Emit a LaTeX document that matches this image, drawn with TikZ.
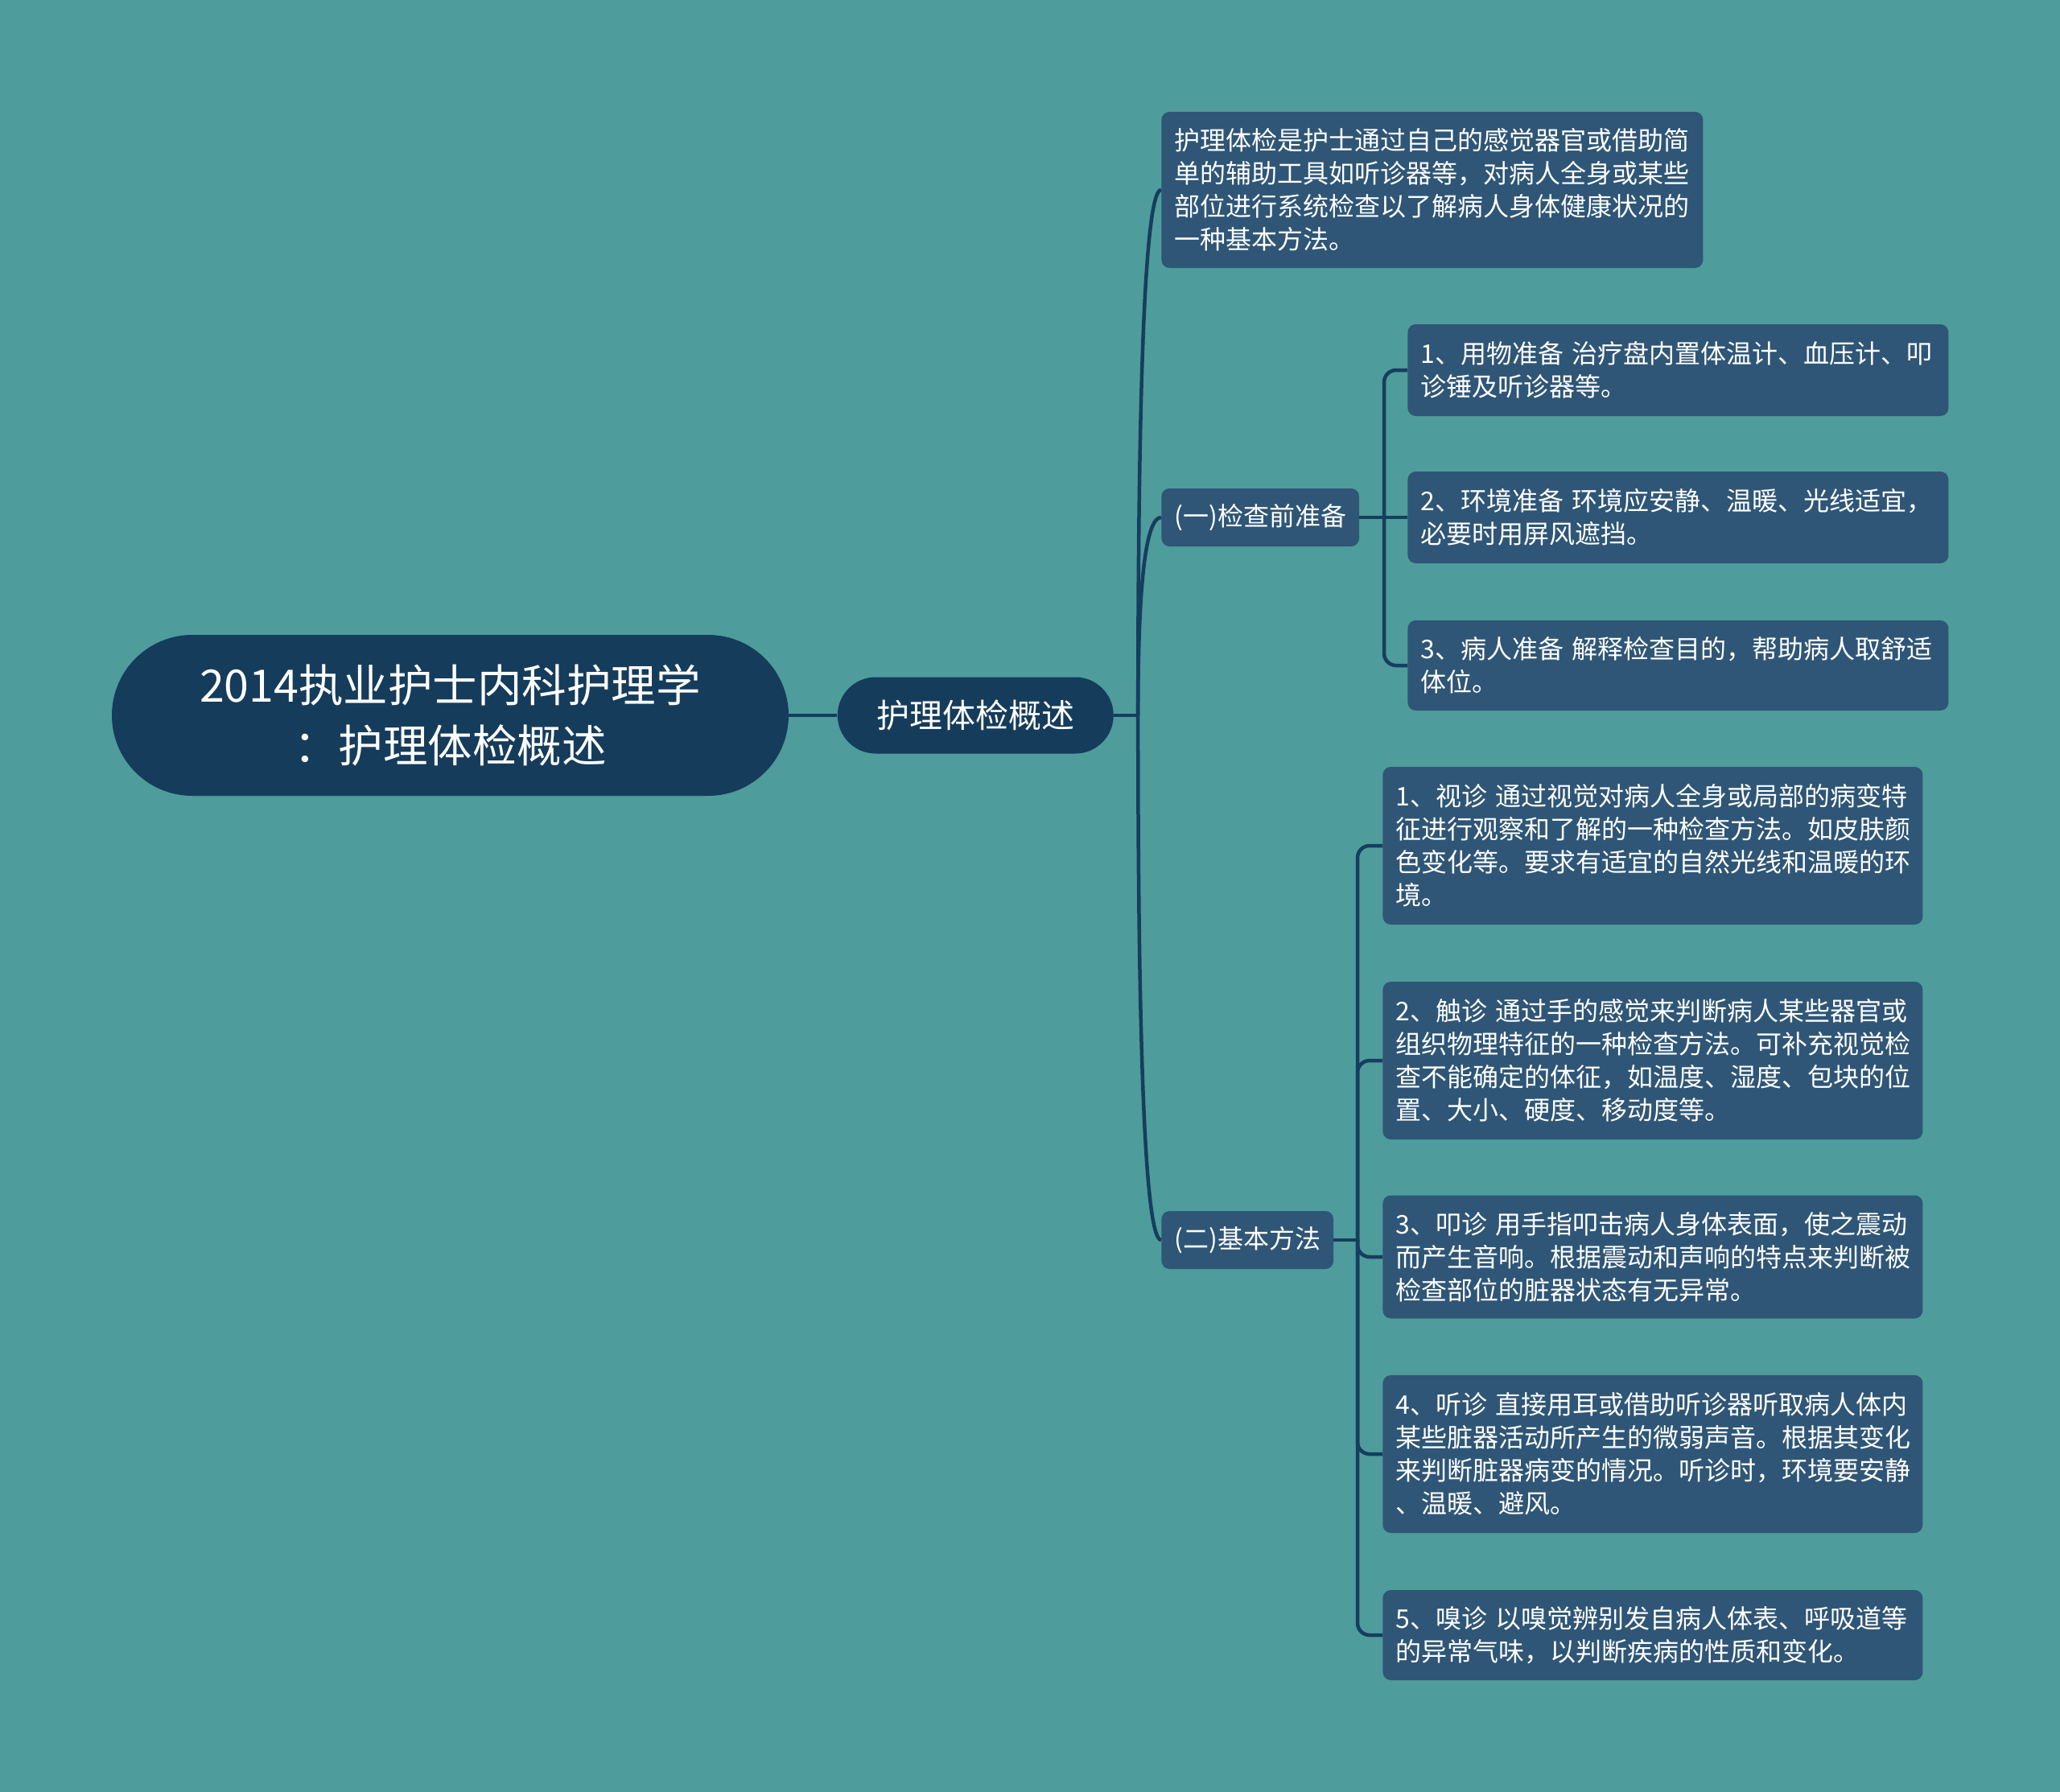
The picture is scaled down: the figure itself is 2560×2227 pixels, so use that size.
\documentclass[tikz,border=0pt]{standalone}
\usepackage{fontspec}
\setmainfont{Noto Sans CJK SC}
\usetikzlibrary{positioning, calc}
\definecolor{colorBack}{HTML}{4E9C9B}
\definecolor{colorRoot}{HTML}{163C5B}
\definecolor{colorLeaf}{HTML}{2F5676}
\definecolor{colorLink}{HTML}{173E5E}
\tikzset{
  root/.style={fill=colorRoot, text=white, rounded corners=50pt, minimum width=420.5pt, minimum height=100pt, align=center, font=\fontsize{27.75}{37.5}\selectfont},
  topic/.style={fill=colorRoot, text=white, rounded corners=23.75pt, minimum width=171.5pt, minimum height=47.5pt, font=\fontsize{20.5}{24}\selectfont},
  sub/.style={fill=colorLeaf, text=white, rounded corners=5pt, minimum height=36pt, inner xsep=8pt, font=\fontsize{16}{20.5}\selectfont},
  leaf/.style={fill=colorLeaf, text=white, rounded corners=5pt, align=left, anchor=west, inner xsep=8pt, inner ysep=0pt, font=\fontsize{16}{20.5}\selectfont},
  link/.style={draw=colorLink, line width=2.25pt},
  curvy/.style={to path={.. controls ($(\tikztostart)!2/3!(\tikztostart|-\tikztotarget)$) and ($(\tikztotarget)!2/3!(\tikztostart|-\tikztotarget)$) .. (\tikztotarget)}}
}

\begin{document}
\begin{tikzpicture}[x=0.5pt, y=-0.5pt]
\fill[colorBack] (0,0) rectangle (2560,2227);
\useasboundingbox (0,0) rectangle (2560,2227);

\node[root] (root) at (559.5,889) {2014执业护士内科护理学\\：护理体检概述};
\node[topic, right=30pt of root] (main) {护理体检概述};
\coordinate[right=15pt of main] (j);

\node[leaf, text width=320.5pt, minimum height=97pt] (desc) at (1443,236) {护理体检是护士通过自己的感觉器官或借助简\\单的辅助工具如听诊器等，对病人全身或某些\\部位进行系统检查以了解病人身体健康状况的\\一种基本方法。};
\node[sub, anchor=west] (prep) at (1443,643) {(一)检查前准备};
\node[sub, anchor=west] (meth) at (1443,1541) {(二)基本方法};

% 检查前准备
\node[leaf, text width=320pt, minimum height=57pt] (prepA) at (1749,460) {1、用物准备 治疗盘内置体温计、血压计、叩\\诊锤及听诊器等。};
\node[leaf, text width=320pt, minimum height=57pt] (prepB) at (1749,643) {2、环境准备 环境应安静、温暖、光线适宜，\\必要时用屏风遮挡。};
\node[leaf, text width=320pt, minimum height=56pt] (prepC) at (1749,827) {3、病人准备 解释检查目的，帮助病人取舒适\\体位。};

% 基本方法
\node[leaf, text width=319.5pt, minimum height=98pt] (methA) at (1718,1051) {1、视诊 通过视觉对病人全身或局部的病变特\\征进行观察和了解的一种检查方法。如皮肤颜\\色变化等。要求有适宜的自然光线和温暖的环\\境。};
\node[leaf, text width=319.5pt, minimum height=98pt] (methB) at (1718,1318) {2、触诊 通过手的感觉来判断病人某些器官或\\组织物理特征的一种检查方法。可补充视觉检\\查不能确定的体征，如温度、湿度、包块的位\\置、大小、硬度、移动度等。};
\node[leaf, text width=319.5pt, minimum height=76.5pt] (methC) at (1718,1562) {3、叩诊 用手指叩击病人身体表面，使之震动\\而产生音响。根据震动和声响的特点来判断被\\检查部位的脏器状态有无异常。};
\node[leaf, text width=319.5pt, minimum height=98pt] (methD) at (1718,1807) {4、听诊 直接用耳或借助听诊器听取病人体内\\某些脏器活动所产生的微弱声音。根据其变化\\来判断脏器病变的情况。听诊时，环境要安静\\、温暖、避风。};
\node[leaf, text width=319.5pt, minimum height=56pt] (methE) at (1718,2032) {5、嗅诊 以嗅觉辨别发自病人体表、呼吸道等\\的异常气味，以判断疾病的性质和变化。};

\coordinate (tp) at (1720,0 |- prep.east);
\coordinate (tm) at (1687,0 |- meth.east);

\draw[link] (root) -- (main);
\draw[link] (main) -- (j);
\foreach \n in {desc, prep, meth}
  \draw[link] (j) to[curvy] (\n.west);
\draw[link] (prep) -- (tp) -- (prepB.west);
\foreach \n in {prepA, prepC}
  \draw[link, rounded corners=7.5pt] (tp) |- (\n.west);
\draw[link] (meth) -- (tm);
\foreach \n in {methA, methB, methC, methD, methE}
  \draw[link, rounded corners=7.5pt] (tm) |- (\n.west);
\end{tikzpicture}
\end{document}
